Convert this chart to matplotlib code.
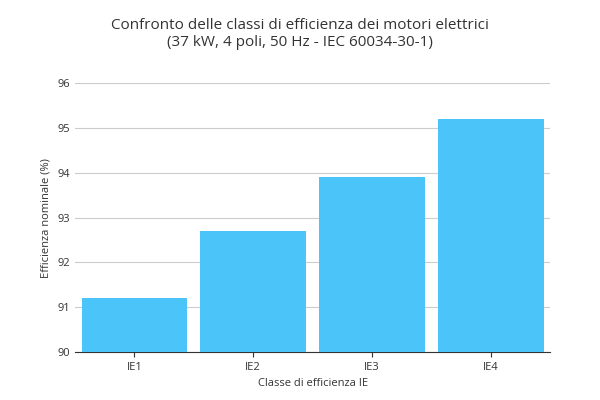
import matplotlib.pyplot as plt

plt.rcParams['font.family'] = ['Open Sans', 'DejaVu Sans']

classes = ["IE1", "IE2", "IE3", "IE4"]
efficiency = [91.2, 92.7, 93.9, 95.2]

fig, ax = plt.subplots(figsize=(6, 4), dpi=100)
fig.subplots_adjust(left=0.125, right=0.917, top=0.792, bottom=0.12)

ax.bar(classes, [v - 90 for v in efficiency], bottom=90, width=0.89,
       color='#4BC4FA', zorder=3)
ax.set_ylim(90, 96)
ax.set_xlim(-0.5, 3.5)
ax.set_yticks(range(90, 97))
ax.grid(axis='y', color='#cccccc', linewidth=0.8, zorder=0)
for s in ['top', 'right', 'left']:
    ax.spines[s].set_visible(False)
ax.spines['bottom'].set_color('#333333')
ax.tick_params(axis='y', length=0, labelsize=8, colors='#333333')
ax.tick_params(axis='x', labelsize=8, colors='#333333')
ax.set_xlabel("Classe di efficienza IE", fontsize=8, color='#333333')
ax.set_ylabel("Efficienza nominale (%)", fontsize=8, color='#333333')
fig.suptitle("Confronto delle classi di efficienza dei motori elettrici\n(37 kW, 4 poli, 50 Hz - IEC 60034-30-1)",
             fontsize=11, color='#333333', y=0.955)

fig.savefig("out.png")
